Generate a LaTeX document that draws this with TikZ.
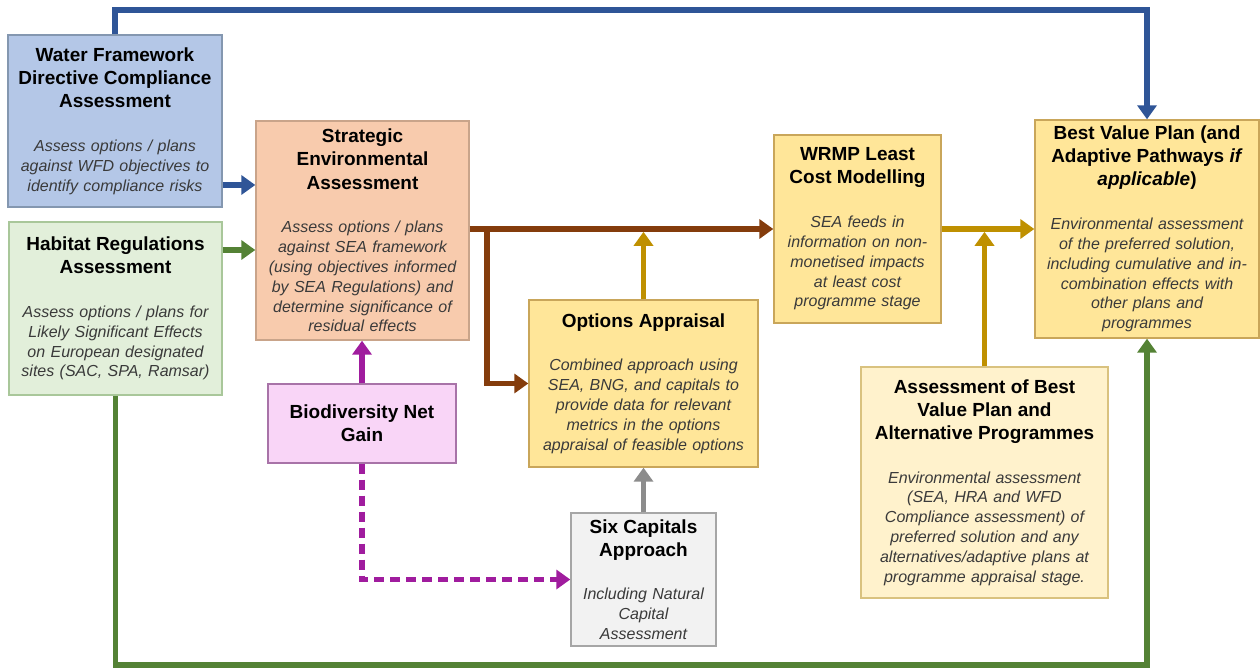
\documentclass[tikz,border=0pt]{standalone}
\usepackage{fontspec}
\setsansfont{Liberation Sans}
\usetikzlibrary{arrows.meta}

\definecolor{wfdfill}{HTML}{B4C7E7}
\definecolor{wfdline}{HTML}{8497B0}
\definecolor{seafill}{HTML}{F8CBAD}
\definecolor{sealine}{HTML}{C9A48A}
\definecolor{hrafill}{HTML}{E2EFDA}
\definecolor{hraline}{HTML}{A9C79A}
\definecolor{bngfill}{HTML}{F9D5F7}
\definecolor{bngline}{HTML}{A873A8}
\definecolor{goldfill}{HTML}{FFE699}
\definecolor{goldline}{HTML}{C9A65A}
\definecolor{palefill}{HTML}{FFF2CC}
\definecolor{paleline}{HTML}{D9C27F}
\definecolor{sixfill}{HTML}{F2F2F2}
\definecolor{sixline}{HTML}{A6A6A6}
\definecolor{bodygrey}{HTML}{3A3A3A}
\definecolor{flowblue}{HTML}{2F5597}
\definecolor{flowgreen}{HTML}{548235}
\definecolor{flowbrown}{HTML}{843C0C}
\definecolor{flowgold}{HTML}{BF9000}
\definecolor{flowpurple}{HTML}{A01C9E}
\definecolor{flowgrey}{HTML}{8C8C8C}

\newcommand{\headfont}{\color{black}\upshape\bfseries\fontsize{10.8}{13.2}\selectfont}
\newcommand{\boxhead}[1]{{\headfont #1\par}\vskip 13.5pt}

\begin{document}
\begin{tikzpicture}[x=0.02cm, y=-0.02cm, font=\sffamily,
    stage/.style={draw, line width=0.8pt, align=center, inner xsep=0.08cm, inner ysep=0pt,
      font=\sffamily\itshape\fontsize{9.1}{11.3}\selectfont, text=bodygrey,
      execute at begin node=\setlength{\parindent}{0pt}},
    flow/.style={line width=3.2pt, -{Triangle[width=0.38cm, length=0.28cm]}}]
  \useasboundingbox (0,0) rectangle (1260,668);

  % stages
  \node[stage, fill=wfdfill, draw=wfdline, text width=4.12cm, minimum height=3.44cm] (wfd) at (115,121)
    {\boxhead{Water Framework\\ Directive Compliance\\ Assessment}Assess options / plans\\ against WFD objectives to\\ identify compliance risks};
  \node[stage, fill=hrafill, draw=hraline, text width=4.10cm, minimum height=3.46cm] (hra) at (115.5,308.5)
    {\boxhead{Habitat Regulations\\ Assessment}Assess options / plans for\\ Likely Significant Effects\\ on European designated\\ sites (SAC, SPA, Ramsar)};
  \node[stage, fill=seafill, draw=sealine, text width=4.10cm, minimum height=4.38cm] (sea) at (362.5,230.5)
    {\boxhead{Strategic\\ Environmental\\ Assessment}Assess options / plans\\ against SEA framework\\ (using objectives informed\\ by SEA Regulations) and\\ determine significance of\\ residual effects};
  \node[stage, fill=bngfill, draw=bngline, text width=3.60cm, minimum height=1.58cm] (bng) at (362,423.5)
    {{\headfont Biodiversity Net\\ Gain\par}};
  \node[stage, fill=goldfill, draw=goldline, text width=4.42cm, minimum height=3.34cm] (oa) at (643.5,383.5)
    {\boxhead{Options Appraisal}Combined approach using\\ SEA, BNG, and capitals to\\ provide data for relevant\\ metrics in the options\\ appraisal of feasible options};
  \node[stage, fill=sixfill, draw=sixline, text width=2.74cm, minimum height=2.66cm] (six) at (643.5,579.5)
    {\boxhead{Six Capitals\\ Approach}Including Natural\\ Capital\\ Assessment};
  \node[stage, fill=goldfill, draw=goldline, text width=3.18cm, minimum height=3.76cm] (wrmp) at (857.5,229)
    {\boxhead{WRMP Least\\ Cost Modelling}SEA feeds in\\ information on non-\\ monetised impacts\\ at least cost\\ programme stage};
  \node[stage, fill=goldfill, draw=goldline, text width=4.32cm, minimum height=4.36cm] (bvp) at (1147,229)
    {\boxhead{Best Value Plan (and\\ Adaptive Pathways \textit{if}\\ \textit{applicable})}Environmental assessment\\ of the preferred solution,\\ including cumulative and in-\\ combination effects with\\ other plans and\\ programmes};
  \node[stage, fill=palefill, draw=paleline, text width=4.78cm, minimum height=4.62cm] (abv) at (984.5,482.5)
    {\boxhead{Assessment of Best\\ Value Plan and\\ Alternative Programmes}Environmental assessment\\ (SEA, HRA and WFD\\ Compliance assessment) of\\ preferred solution and any\\ alternatives/adaptive plans at\\ programme appraisal stage.};

  \coordinate (topline) at (0,10);
  \coordinate (botline) at (0,665);
  \coordinate (split) at (487,229);

  % connectors
  \draw[flow, flowblue] (wfd.north) -- (wfd.north |- topline) -| (bvp.north);
  \draw[flow, flowblue] (wfd.east |- 0,185) -- (sea.west |- 0,185);
  \draw[flow, flowgreen] (hra.east |- 0,250) -- (sea.west |- 0,250);
  \draw[flow, flowgreen] (hra.south) -- (hra.south |- botline) -| (bvp.south);
  \draw[flow, flowbrown] (sea.east |- wrmp.west) -- (wrmp.west);
  \draw[flow, flowbrown] (split) |- (oa.west);
  \draw[flow, flowgold] (oa.north) -- ([yshift=-1.6pt]oa.north |- wrmp.west);
  \draw[flow, flowgold] (wrmp.east) -- (bvp.west);
  \draw[flow, flowgold] (abv.north) -- ([yshift=-1.6pt]abv.north |- wrmp.east);
  \draw[flow, flowpurple] (bng.north) -- (bng.north |- sea.south);
  \draw[flow, flowpurple, dash pattern=on 0.2cm off 0.12cm] (bng.south) |- (six.west);
  \draw[flow, flowgrey] (six.north) -- (oa.south);
\end{tikzpicture}
\end{document}
